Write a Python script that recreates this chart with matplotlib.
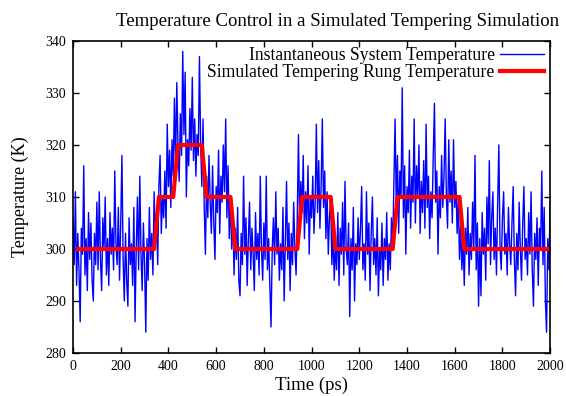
import numpy as np
import matplotlib
matplotlib.use("Agg")
from matplotlib import pyplot as plt

# instantaneous temperature, one value every 5 ps
sample_step = 5
inst_temp = [
    306, 297, 311, 293, 303, 296, 286, 304, 299, 316, 295, 302, 292, 307, 298, 305, 294, 290, 303, 297,
    309, 296, 311, 298, 292, 306, 300, 310, 295, 302, 293, 307, 299, 304, 296, 315, 301, 297, 308, 294,
    305, 318, 298, 290, 303, 294, 289, 306, 297, 301, 293, 308, 286, 300, 310, 296, 314, 299, 292, 305,
    297, 284, 302, 294, 308, 298, 303, 295, 311, 302, 307, 297, 312, 318, 303, 310, 306, 315, 304, 324,
    312, 319, 308, 321, 314, 329, 316, 332, 320, 313, 326, 318, 338, 322, 334, 310, 321, 316, 327, 319,
    333, 317, 325, 314, 322, 318, 337, 320, 312, 325, 308, 299, 314, 306, 318, 309, 303, 316, 305, 298,
    312, 307, 319, 303, 314, 309, 320, 311, 325, 306, 316, 302, 310, 300, 307, 295, 304, 298, 308, 294,
    291, 303, 297, 314, 299, 306, 293, 302, 309, 296, 304, 299, 292, 307, 298, 303, 295, 314, 300, 294,
    305, 298, 314, 296, 302, 293, 285, 300, 306, 297, 311, 299, 304, 294, 301, 296, 308, 290, 302, 313,
    298, 305, 292, 303, 297, 309, 300, 295, 306, 322, 304, 313, 307, 318, 302, 311, 305, 316, 299, 310,
    306, 314, 303, 309, 324, 307, 317, 304, 312, 325, 308, 315, 302, 311, 299, 306, 310, 297, 303, 294,
    301, 296, 307, 293, 304, 299, 309, 295, 313, 300, 297, 305, 287, 302, 296, 308, 290, 301, 297, 306,
    298, 304, 312, 296, 301, 294, 311, 299, 305, 292, 303, 310, 297, 302, 295, 306, 291, 300, 296, 305,
    293, 302, 298, 307, 294, 301, 296, 306, 300, 313, 325, 308, 318, 303, 315, 310, 331, 306, 316, 299,
    312, 307, 319, 304, 314, 309, 325, 305, 316, 310, 320, 303, 313, 307, 317, 304, 324, 308, 314, 302,
    311, 306, 318, 328, 309, 315, 299, 312, 306, 318, 308, 314, 325, 310, 304, 321, 309, 315, 305, 321,
    308, 313, 303, 310, 298, 305, 296, 302, 293, 304, 299, 308, 295, 303, 298, 309, 300, 318, 296, 305,
    289, 302, 291, 307, 299, 304, 294, 310, 301, 317, 297, 306, 311, 298, 304, 295, 309, 320, 300, 296,
    306, 311, 299, 303, 295, 308, 301, 297, 305, 312, 298, 291, 303, 296, 309, 300, 294, 305, 312, 298,
    302, 295, 307, 299, 311, 296, 289, 303, 298, 306, 293, 304, 300, 315, 297, 308, 290, 284, 302, 296,
    309,
]
time_ps = np.arange(len(inst_temp)) * sample_step

# simulated tempering rung temperature (breakpoints of the step trace)
rung_time = [20, 340, 360, 420, 440, 540, 560, 660, 680, 940, 960, 1080, 1100, 1340, 1360, 1620, 1640, 2000]
rung_temp = [300, 300, 310, 310, 320, 320, 310, 310, 300, 300, 310, 310, 300, 300, 310, 310, 300, 300]

x_ticks = list(range(0, 2001, 200))
y_ticks = list(range(280, 341, 10))

plt.rcParams['font.family'] = ['Liberation Serif', 'DejaVu Serif']

fig = plt.figure(figsize=(5.66, 3.96), dpi=100)
ax = fig.add_axes([0.129, 0.1086, 0.843, 0.7879])

ax.plot(time_ps, inst_temp, color='#0000ff', linewidth=1.0,
        label='Instantaneous System Temperature')
ax.plot(rung_time, rung_temp, color='#ff0000', linewidth=3,
        label='Simulated Tempering Rung Temperature')

ax.set_xlim(0, 2000)
ax.set_ylim(280, 340)
ax.set_xticks(x_ticks)
ax.set_yticks(y_ticks)
ax.tick_params(direction='in', length=4, width=1, labelsize=10,
               top=True, right=True, pad=5)
for s in ax.spines.values():
    s.set_linewidth(1.2)

ax.set_xlabel('Time (ps)', fontsize=13.5, labelpad=3)
ax.set_ylabel('Temperature (K)', fontsize=13, labelpad=12)
ax.set_title('Temperature Control in a Simulated Tempering Simulation',
             fontsize=13.5, pad=11, x=0.555)

ax.legend(loc='upper right', frameon=False, markerfirst=False, fontsize=12.7,
          handlelength=2.5, handletextpad=0.3, labelspacing=0.0,
          borderaxespad=0.2, borderpad=0.15)

fig.savefig('out.png', dpi=100)
